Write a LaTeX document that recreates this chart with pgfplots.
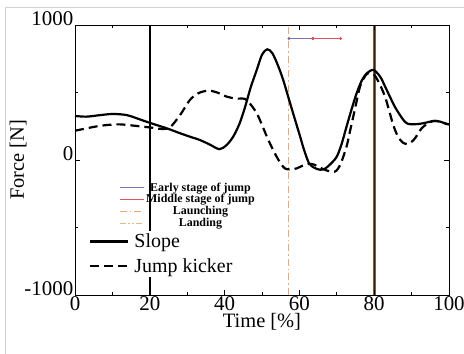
\documentclass[border=0pt]{standalone}
\usepackage{pgfplots}
\pgfplotsset{compat=1.18}
\usepackage{fontspec}
\setmainfont{Liberation Serif}
\definecolor{early}{HTML}{8070B0}
\definecolor{middle}{HTML}{E05060}
\definecolor{launch}{HTML}{EBA878}
\definecolor{landleg}{HTML}{E0BC8C}
\definecolor{landline}{HTML}{7A6040}
\begin{document}
\begin{tikzpicture}
\useasboundingbox (-75bp,-59bp) rectangle (389bp,295bp);
\draw[black!18, line width=0.8bp] (-70bp,-59bp) -- (-70bp,288bp) -- (389bp,288bp);
\pgfplotsset{
  common/.style={
    scale only axis, width=374bp, height=270bp,
    xmin=0, xmax=100, ymin=-1000, ymax=1000,
    at={(0,0)}, anchor=south west,
  }
}
% overlay axis: phases, launching, landing
\begin{axis}[common, hide axis,
  legend style={draw=none, fill=none, font=\fontsize{12}{12}\selectfont\bfseries,
    at={(axis description cs:0.115,0.428)}, anchor=north west,
    row sep=-2bp, inner sep=1pt},
  legend cell align=center,
  legend image code/.code={\draw[#1] (0bp,0bp) -- (24bp,0bp);},
]
\addplot[early, line width=0.8bp, mark=*, mark size=1.1bp] coordinates {(57.2,900) (63.6,900)};
\addlegendentry{Early stage of jump}
\addplot[middle, line width=0.8bp, mark=*, mark size=1.1bp] coordinates {(63.6,900) (71.0,900)};
\addlegendentry{Middle stage of jump}
\addplot[launch, line width=1bp, dash pattern=on 7bp off 3bp on 1.5bp off 3bp] coordinates {(57.2,-1000) (57.2,1000)};
\addlegendentry{Launching}
\addplot[landline, line width=2.8bp, forget plot] coordinates {(80,-1000) (80,1000)};
\addplot[black!85, line width=0.8bp, forget plot] coordinates {(80,-1000) (80,1000)};
\addlegendimage{landleg, line width=1bp, dash pattern=on 6bp off 2.5bp on 1.5bp off 2.5bp on 1.5bp off 2.5bp}
\addlegendentry{Landing}
\end{axis}
% main axis
\begin{axis}[common,
  axis line style={line width=0.9bp},
  tick style={black, line width=0.7bp},
  major tick length=5bp, minor tick length=3bp,
  xtick={0,20,40,60,80,100}, minor xtick={10,30,50,70,90},
  ytick={-1000,0,1000}, minor ytick={-500,500},
  tick align=inside,
  /pgf/number format/assume math mode=true,
  /pgf/number format/1000 sep={},
  ticklabel style={font=\fontsize{21}{22}\selectfont},
  xticklabel style={inner sep=1bp},
  yticklabel style={inner sep=1.5bp, yshift=6.5bp},
  xlabel={Time [\%]}, ylabel={Force [N]},
  label style={font=\fontsize{20.5}{22}\selectfont},
  xlabel style={at={(axis description cs:0.5,-0.098)}, anchor=center},
  ylabel style={at={(axis description cs:-0.152,0.5)}, anchor=center},
  legend style={draw=none, fill=white, font=\fontsize{20}{22}\selectfont,
    at={(axis description cs:0.035,0.238)}, anchor=north west, inner sep=1bp, row sep=5bp},
  legend cell align=left,
  legend image code/.code={\draw[#1] (0bp,0bp) -- (38bp,0bp);},
  legend style={nodes={inner xsep=5bp}},
]
\addplot[black, line width=1.8bp, forget plot] coordinates {(20,-1000) (20,1000)};
\addplot[black, line width=2.2bp, smooth, tension=0.5] coordinates {
(0,326) (3,321) (6,330) (10,341) (13.8,333) (16.5,309) (19.8,277) (24.5,235) (28.1,198)
(30.7,173) (33.4,148) (36,115) (38.6,80) (40.5,110) (42.3,173) (44,270) (45.5,395)
(47,540) (48.6,667) (50,780) (51.4,820) (52.8,790) (54.4,691) (55.7,590) (57,469)
(58.6,320) (60.2,173) (61.3,70) (62.6,-25) (64,-58) (65.5,-72) (66.8,-65) (68.3,-30)
(70,25) (71.3,120) (72.6,247) (74,380) (75.3,494) (76.7,590) (78,642) (79.8,667)
(81.6,617) (82.9,545) (84.2,469) (85.5,395) (86.9,333) (88,290) (89.1,267) (91,265)
(93.1,272) (95.8,289) (97.5,285) (99.4,267) (100,265)};
\addlegendentry{Slope}
\addplot[black, line width=2.2bp, dash pattern=on 9bp off 5bp, smooth, tension=0.5] coordinates {
(0,217) (3.2,235) (6,250) (8.5,259) (12,264) (16.5,252) (19.8,242) (23.2,230) (25.4,242)
(28.1,333) (30.7,444) (33,495) (35.7,514) (38,500) (40.6,469) (43,455) (45.5,452)
(47,410) (48.6,346) (50,260) (51.3,173) (52.6,95) (53.9,25) (55,-25) (56.1,-62)
(57.5,-70) (59.3,-62) (61,-40) (62.6,-28) (64,-35) (65.5,-55) (67,-75) (69.5,-86)
(71,-30) (72.6,99) (73.5,210) (74.4,321) (75.3,435) (76.2,543) (77.3,610) (78.3,642)
(80,630) (81.5,560) (82.9,469) (83.8,385) (84.7,296) (85.6,220) (86.5,168) (87.6,130)
(88.7,119) (89.8,130) (90.9,160) (91.8,200) (92.7,235) (94,265) (95.8,289) (97.5,285)
(99.4,267) (100,265)};
\addlegendentry{Jump kicker}
\end{axis}
\end{tikzpicture}
\end{document}
